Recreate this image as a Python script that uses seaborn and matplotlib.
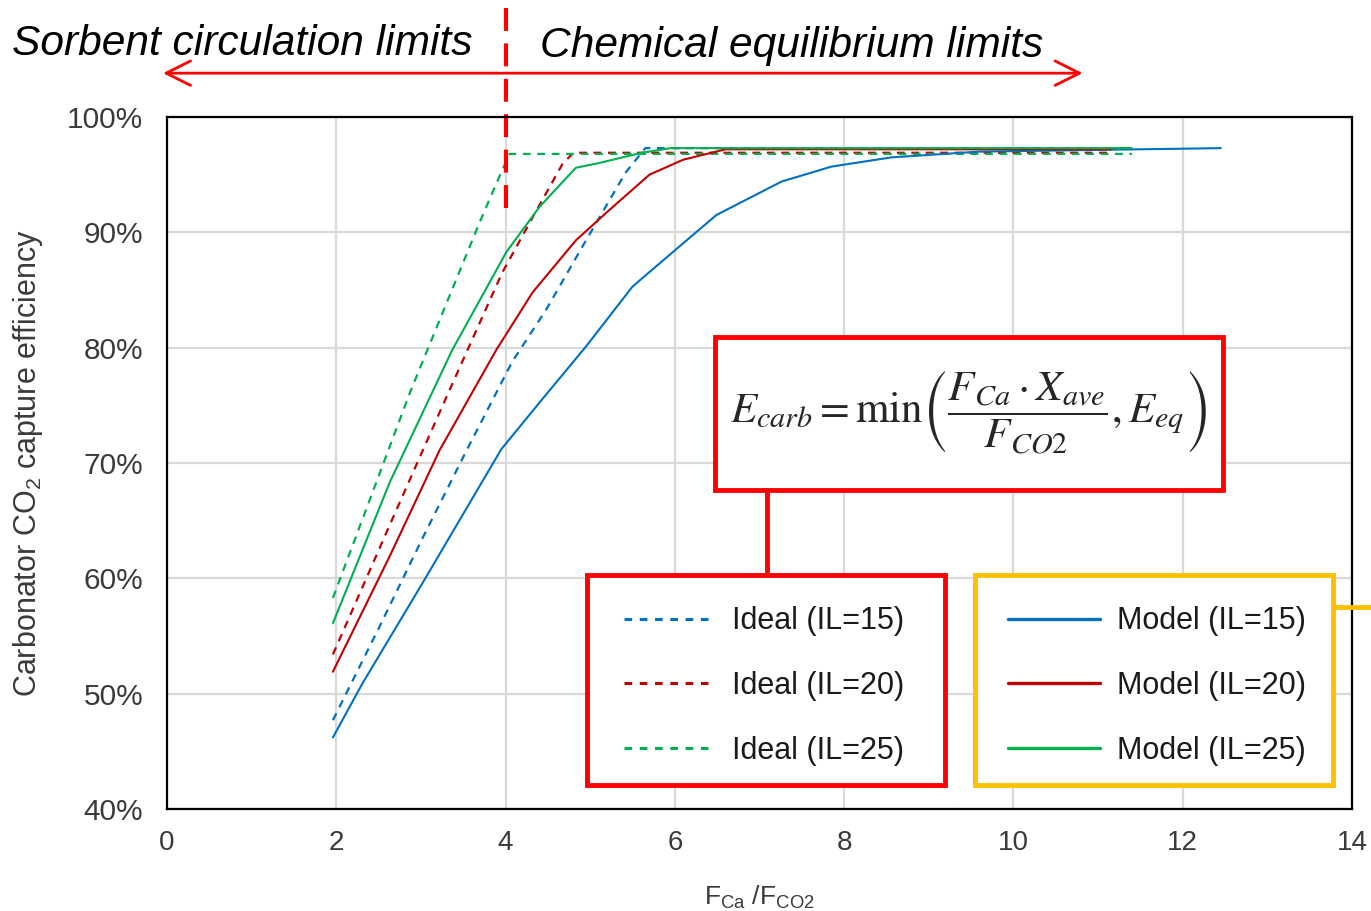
import matplotlib
matplotlib.use("Agg")
import matplotlib.pyplot as plt
from matplotlib.lines import Line2D
from matplotlib.patches import Rectangle
from matplotlib.ticker import FuncFormatter
import seaborn as sns

# --- DATA ---
ideal_15_x = [1.96, 2.51, 3.02, 3.54, 4.08, 4.48, 4.95, 5.42, 5.65, 11.4]
ideal_15_y = [47.7, 55.8, 63.5, 71.1, 78.8, 83.3, 89.3, 95.2, 97.3, 97.3]

ideal_20_x = [1.96, 2.63, 3.30, 3.96, 4.32, 4.67, 4.80, 11.15]
ideal_20_y = [53.4, 64.6, 75.7, 86.5, 91.3, 95.9, 96.9, 96.9]

ideal_25_x = [1.96, 2.87, 3.69, 3.96, 4.05, 11.4]
ideal_25_y = [58.3, 76.1, 90.8, 95.4, 96.8, 96.8]

model_15_x = [1.96, 2.31, 3.02, 3.95, 4.43, 4.95, 5.50, 6.01, 6.49, 7.26, 7.85, 8.56, 9.6, 12.45]
model_15_y = [46.2, 50.9, 59.6, 71.2, 75.5, 80.1, 85.3, 88.5, 91.5, 94.4, 95.7, 96.5, 97.0, 97.3]

model_20_x = [1.96, 2.63, 3.22, 3.89, 4.32, 4.83, 5.19, 5.70, 6.1, 6.6, 11.15]
model_20_y = [51.9, 61.9, 71.1, 79.8, 84.8, 89.3, 91.7, 95.0, 96.3, 97.2, 97.2]

model_25_x = [1.96, 2.63, 3.37, 4.01, 4.40, 4.83, 5.10, 5.61, 5.95, 11.4]
model_25_y = [56.1, 68.3, 79.8, 88.3, 92.2, 95.6, 96.0, 96.9, 97.3, 97.3]

ideal_labels = ["Ideal (IL=15)", "Ideal (IL=20)", "Ideal (IL=25)"]
model_labels = ["Model (IL=15)", "Model (IL=20)", "Model (IL=25)"]
colors = ["#0070C0", "#C00000", "#00B050"]

x_ticks = [0, 2, 4, 6, 8, 10, 12, 14]
y_ticks = [40, 50, 60, 70, 80, 90, 100]

W, H = 1371, 911


def fx(px):
    return px / W


def fy(py):
    return 1 - py / H


sns.set_theme(style="whitegrid")
plt.rcParams['font.family'] = ['Liberation Sans', 'DejaVu Sans']
plt.rcParams['mathtext.fontset'] = 'custom'
plt.rcParams['mathtext.rm'] = 'Liberation Sans'
plt.rcParams['mathtext.it'] = 'Liberation Sans:italic'

fig = plt.figure(figsize=(W / 100, H / 100), dpi=100)
ax = fig.add_axes([fx(167), fy(809), fx(1352) - fx(167), fy(117) - fy(809)])

ideal = [(ideal_15_x, ideal_15_y), (ideal_20_x, ideal_20_y), (ideal_25_x, ideal_25_y)]
model = [(model_15_x, model_15_y), (model_20_x, model_20_y), (model_25_x, model_25_y)]

for (xs, ys), c in zip(ideal, colors):
    sns.lineplot(x=xs, y=ys, ax=ax, color=c, lw=1.6, linestyle=(0, (3.5, 3)), sort=False)
for (xs, ys), c in zip(model, colors):
    sns.lineplot(x=xs, y=ys, ax=ax, color=c, lw=1.5, sort=False)

ax.set_xlim(0, 14)
ax.set_ylim(40, 100)
ax.set_xticks(x_ticks)
ax.set_yticks(y_ticks)
ax.yaxis.set_major_formatter(FuncFormatter(lambda v, p: f"{v:.0f}%"))
ax.grid(True, color="#D9D9D9", lw=1.6)
ax.set_facecolor("white")
for s in ax.spines.values():
    s.set_color("black")
    s.set_linewidth(1.6)
ax.tick_params(length=0, colors="#3a3a3a")
ax.tick_params(axis='y', pad=17, labelsize=21.5)
ax.tick_params(axis='x', pad=15, labelsize=20)
ax.set_xlabel(r"F$_{\mathrm{Ca}}$ /F$_{\mathrm{CO2}}$", fontsize=19, color="#3a3a3a", labelpad=20)
ax.set_ylabel(r"Carbonator CO$_2$ capture efficiency", fontsize=22, color="#3a3a3a", labelpad=16)

# regime divider and arrow
ax.plot([4, 4], [92.1, 109.5], color="#FF0000", lw=3, linestyle=(0, (5.5, 3)), clip_on=False)
ax.annotate("", xy=(-0.08, 103.8), xytext=(10.85, 103.8),
            arrowprops=dict(arrowstyle="<->,head_length=0.8,head_width=0.4",
                            color="#FF0000", lw=2, mutation_scale=22),
            annotation_clip=False)
fig.text(fx(12), fy(44), "Sorbent circulation limits", fontsize=30.6, style="italic",
         ha="left", va="center", color="black")
fig.text(fx(540), fy(46), "Chemical equilibrium limits", fontsize=30.6, style="italic",
         ha="left", va="center", color="black")

# equation box
fig.add_artist(Rectangle((fx(715), fy(490)), fx(1223) - fx(715), fy(337) - fy(490),
                         transform=fig.transFigure, fill=True, facecolor="white",
                         edgecolor="#FF0000", lw=3.5))
fig.text(fx(969), fy(413),
         r"$E_{carb}=\mathrm{min}\left(\dfrac{F_{Ca}\cdot X_{ave}}{F_{CO2}},E_{eq}\right)$",
         fontsize=31, math_fontfamily="stix", ha="center", va="center")
fig.add_artist(Line2D([fx(767), fx(767)], [fy(490), fy(575)], color="#FF0000", lw=3.5))

# legend boxes
fig.add_artist(Rectangle((fx(587), fy(785)), fx(945) - fx(587), fy(575) - fy(785),
                         transform=fig.transFigure, facecolor="white",
                         edgecolor="#FF0000", lw=3.5, zorder=3))
fig.add_artist(Rectangle((fx(975), fy(785)), fx(1333) - fx(975), fy(575) - fy(785),
                         transform=fig.transFigure, facecolor="white",
                         edgecolor="#FFC000", lw=3.5, zorder=3))
fig.add_artist(Line2D([fx(1333), fx(1371)], [fy(607), fy(607)], color="#FFC000", lw=3.5))

h_ideal = [Line2D([], [], color=c, lw=2.2, linestyle=(0, (2.5, 2.5))) for c in colors]
h_model = [Line2D([], [], color=c, lw=2.4) for c in colors]
leg_kw = dict(frameon=False, fontsize=22, handlelength=3.0, handletextpad=0.55,
              labelspacing=1.13, loc="center", bbox_transform=fig.transFigure,
              labelcolor="#1a1a1a")
leg1 = fig.legend(h_ideal, ideal_labels, bbox_to_anchor=(fx(764), fy(686)), **leg_kw)
leg2 = fig.legend(h_model, model_labels, bbox_to_anchor=(fx(1157), fy(686)), **leg_kw)
leg1.set_zorder(5)
leg2.set_zorder(5)

plt.savefig("out.png", dpi=100)
